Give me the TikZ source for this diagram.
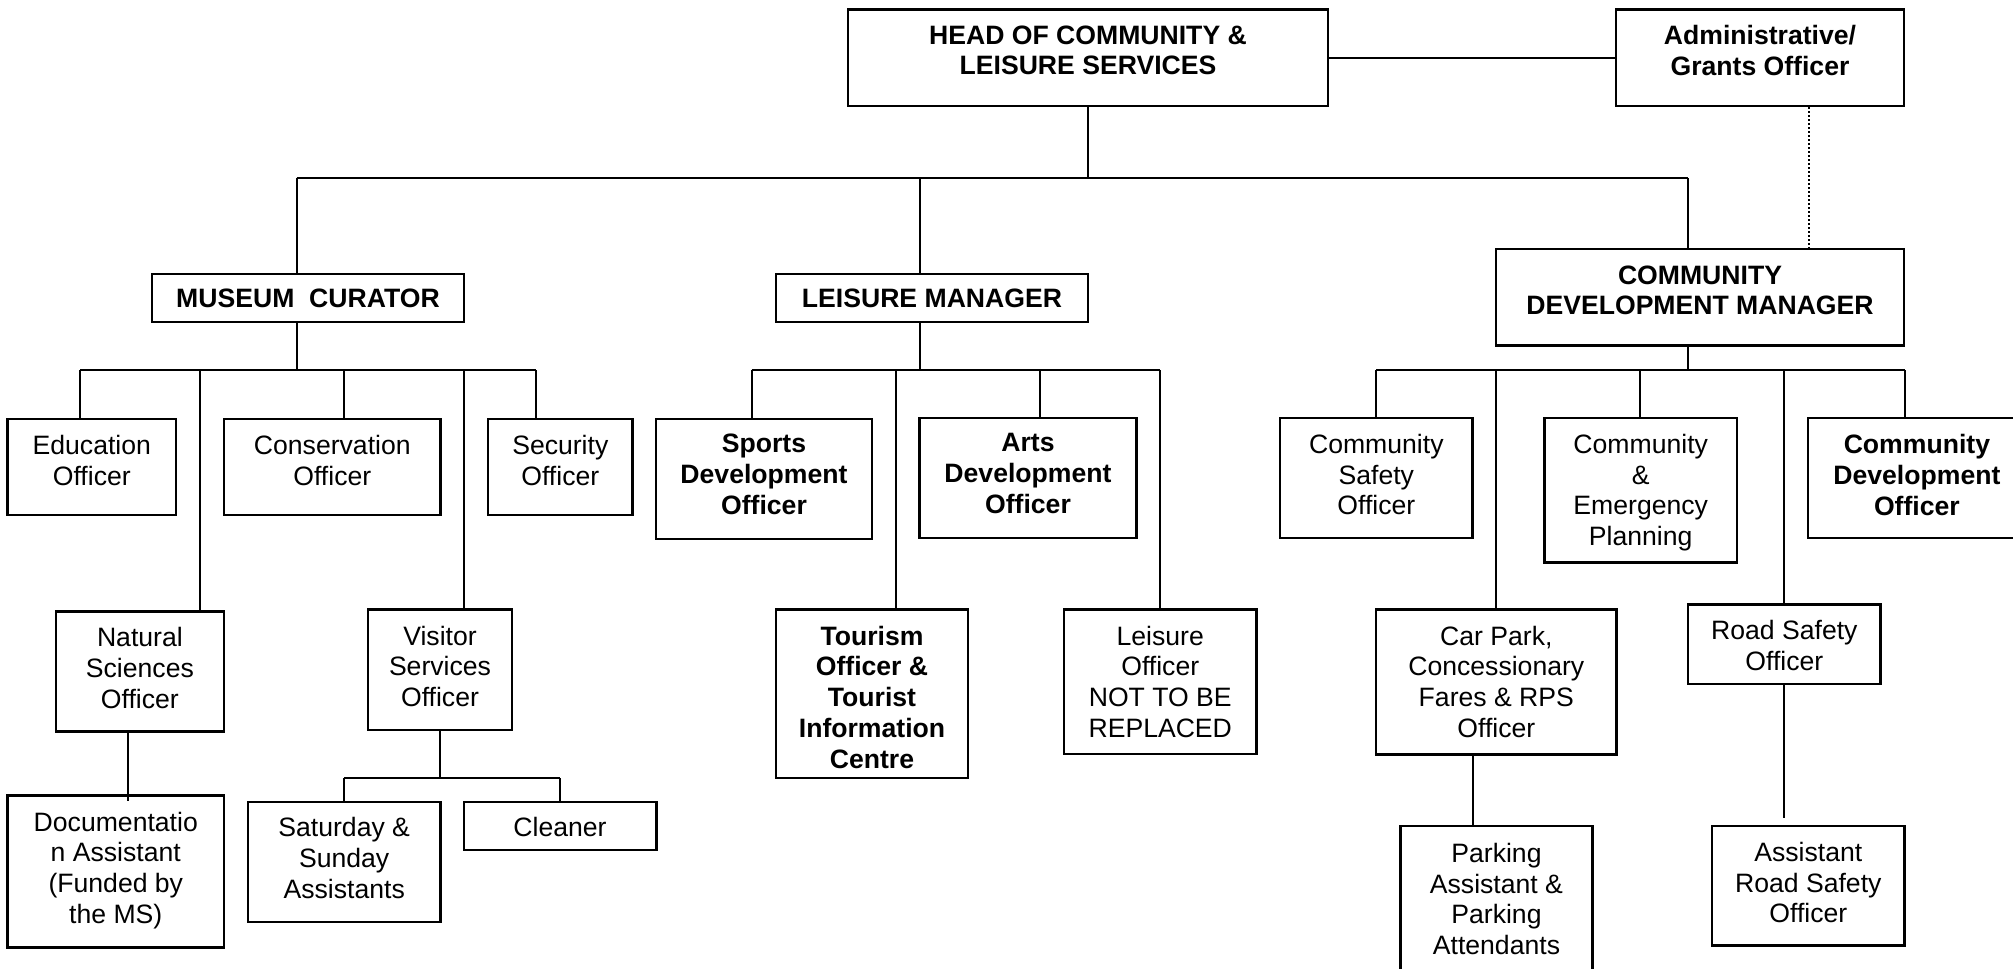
\documentclass[tikz,border=0pt]{standalone}
\usepackage{fontspec}
\setmainfont{Liberation Sans}
\usetikzlibrary{calc}
\tikzset{
  orgbox/.style={draw, line width=1.3pt, rectangle, inner sep=0pt},
  txt/.style={font=\fontsize{13.3}{15.4}\selectfont, align=center, inner sep=0pt, anchor=north},
  btxt/.style={font=\bfseries\fontsize{13.3}{15.4}\selectfont, align=center, inner sep=0pt, anchor=north},
  conn/.style={line width=1pt},
  busline/.style={line width=1.3pt},
  dotline/.style={line width=1pt, dash pattern=on 1pt off 1pt}
}
\newcommand{\obox}[8]{%
  \node[orgbox, minimum width={(#4-#2)*0.5pt}, minimum height={(#5-#3)*0.5pt}] (#1) at ({(#2+#4)/2},{(#3+#5)/2}) {};
  \node[#6] (#1t) at ([yshift={-#8*0.5pt}]#1.north) {#7};
}
\begin{document}
\begin{tikzpicture}[x=0.5pt, y=-0.5pt]
\useasboundingbox (0,0) rectangle (2013,969);
\fill[white] (0,0) rectangle (2013,969);
\clip (0,0) rectangle (2013,969);

\obox{head}{848}{9.5}{1328}{106}{btxt}{HEAD OF COMMUNITY \&\\LEISURE SERVICES}{17}
\obox{admin}{1616}{9.5}{1904}{106}{btxt}{Administrative/\\Grants Officer}{17}
\obox{museum}{152}{274}{464}{322}{btxt}{MUSEUM\ \ CURATOR}{15.5}
\obox{lm}{776}{274}{1088}{322}{btxt}{LEISURE MANAGER}{15.5}
\obox{cdm}{1496}{249}{1904}{345.7}{btxt}{COMMUNITY\\DEVELOPMENT MANAGER}{17.5}
\obox{edu}{7.6}{419}{176}{515}{txt}{Education\\Officer}{17.5}
\obox{cons}{224}{419}{440.6}{515}{txt}{Conservation\\Officer}{17.5}
\obox{sec}{488}{419}{632.6}{515}{txt}{Security\\Officer}{17.5}
\obox{sports}{656}{419}{872}{539}{btxt}{Sports\\Development\\Officer}{16}
\obox{arts}{919.5}{418}{1136.5}{538}{btxt}{Arts\\Development\\Officer}{16}
\obox{csafe}{1280}{418}{1472.6}{538}{txt}{Community\\Safety\\Officer}{17}
\obox{emerg}{1544.6}{418}{1736.8}{562.3}{txt}{Community\\\&\\Emergency\\Planning}{17}
\obox{cdo}{1807.8}{418}{2026}{538}{btxt}{Community\\Development\\Officer}{17.5}
\obox{natsci}{55.8}{611.3}{224}{731.6}{txt}{Natural\\Sciences\\Officer}{17}
\obox{visitor}{368}{609.7}{512}{730}{txt}{Visitor\\Services\\Officer}{17}
\obox{tourism}{776}{609.7}{968}{778}{btxt}{Tourism\\Officer \&\\Tourist\\Information\\Centre}{17}
\obox{leisoff}{1064}{609.7}{1256.5}{754}{txt}{Leisure\\Officer\\NOT TO BE\\REPLACED}{17}
\obox{carpark}{1376}{609.7}{1616.6}{754.2}{txt}{Car Park,\\Concessionary\\Fares \& RPS\\Officer}{17}
\obox{road}{1688}{604.5}{1880.7}{684}{txt}{Road Safety\\Officer}{17}
\obox{doc}{7.6}{795.7}{224}{947.6}{txt}{Documentatio\\n Assistant\\(Funded by\\the MS)}{17}
\obox{satsun}{247.8}{802}{440.6}{922}{txt}{Saturday \&\\Sunday\\Assistants}{16.5}
\obox{cleaner}{463.8}{802}{656.25}{850}{txt}{Cleaner}{16.5}
\obox{parking}{1400.6}{826}{1592.3}{1000}{txt}{Parking\\Assistant \&\\Parking\\Attendants}{18}
\obox{asstroad}{1712}{826}{1904.6}{945.6}{txt}{Assistant\\Road Safety\\Officer}{17}

% top level
\coordinate (J0) at (1088,178);
\coordinate (J1) at (296.6,178);
\coordinate (J2) at (920,178);
\coordinate (J3) at (1688,178);
\coordinate (D) at (1809,0);
\draw[conn] (head.south) -- (J0);
\draw[busline] (J1) -- (J3);
\draw[conn] (J1) -- (J1 |- museum.north);
\draw[conn] (J2) -- (J2 |- lm.north);
\draw[conn] (J3) -- (J3 |- cdm.north);
\draw[conn] (head.east) -- (admin.west);
\draw[dotline] (D |- admin.south) -- (D |- cdm.north);

% museum
\coordinate (M1) at (80.4,370);
\coordinate (M2) at (200,370);
\coordinate (M3) at (343.75,370);
\coordinate (M4) at (464.3,370);
\coordinate (M5) at (535.7,370);
\draw[conn] (J1 |- museum.south) -- (J1 |- M1);
\draw[busline] (M1) -- (M5);
\draw[conn] (M1) -- (M1 |- edu.north);
\draw[conn] (M2) -- (M2 |- natsci.north);
\draw[conn] (M3) -- (M3 |- cons.north);
\draw[conn] (M4) -- (M4 |- visitor.north);
\draw[conn] (M5) -- (M5 |- sec.north);
\coordinate (N1) at (128,0);
\draw[conn] (N1 |- natsci.south) -- ($(N1 |- doc.north)+(0,7)$);
\coordinate (V1) at (344,778);
\coordinate (V2) at (560,778);
\draw[conn] (visitor.south) -- (visitor.south |- V1);
\draw[busline] (V1) -- (V2);
\draw[conn] (V1) -- (V1 |- satsun.north);
\draw[conn] (V2) -- (V2 |- cleaner.north);

% leisure
\coordinate (L1) at (751.6,370);
\coordinate (L2) at (896,370);
\coordinate (L3) at (1040,370);
\coordinate (L4) at (1160,370);
\draw[conn] (J2 |- lm.south) -- (J2 |- L1);
\draw[busline] (L1) -- (L4);
\draw[conn] (L1) -- (L1 |- sports.north);
\draw[conn] (L2) -- (L2 |- tourism.north);
\draw[conn] (L3) -- (L3 |- arts.north);
\draw[conn] (L4) -- (L4 |- leisoff.north);

% community development
\coordinate (C1) at (1376.3,370);
\coordinate (C2) at (1496,370);
\coordinate (C3) at (1640,370);
\coordinate (C4) at (1784.4,370);
\coordinate (C5) at (1904.6,370);
\draw[conn] (J3 |- cdm.south) -- (J3 |- C1);
\draw[busline] (C1) -- (C5);
\draw[conn] (C1) -- (C1 |- csafe.north);
\draw[conn] (C2) -- (C2 |- carpark.north);
\draw[conn] (C3) -- (C3 |- emerg.north);
\draw[conn] (C4) -- (C4 |- road.north);
\draw[conn] (C5) -- (C5 |- cdo.north);
\coordinate (P1) at (1472.6,0);
\draw[conn] (P1 |- carpark.south) -- (P1 |- parking.north);
\draw[conn] (C4 |- road.south) -- ($(C4 |- asstroad.north)+(0,-7)$);
\end{tikzpicture}
\end{document}
